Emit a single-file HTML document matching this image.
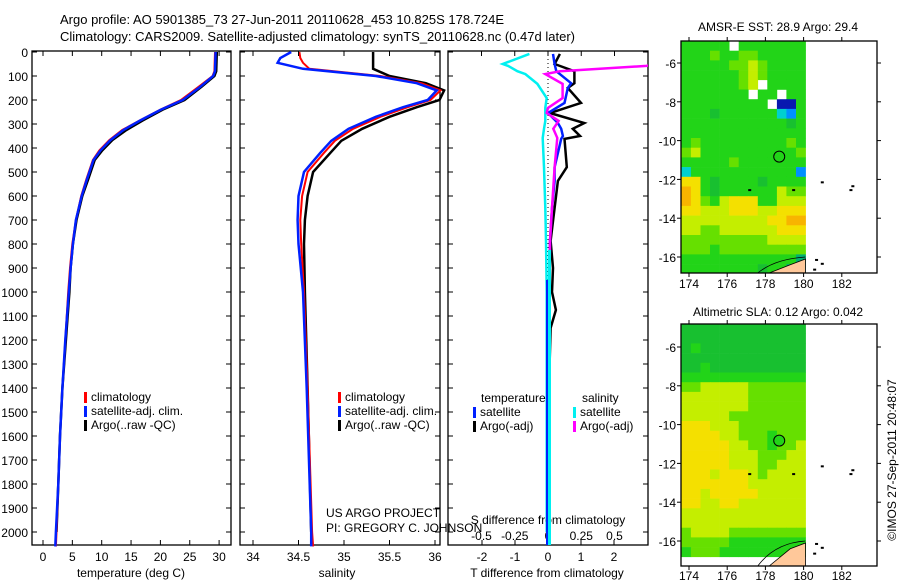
<!DOCTYPE html>
<html><head><meta charset="utf-8"><style>
html,body{margin:0;padding:0;background:#fff}
svg{display:block;font-family:"Liberation Sans",sans-serif}
</style></head><body>
<svg id="fig" width="900" height="580" viewBox="0 0 900 580" xmlns="http://www.w3.org/2000/svg">
<text x="60" y="24" font-size="13">Argo profile: AO 5901385_73 27-Jun-2011 20110628_453 10.825S 178.724E</text>
<text x="60" y="41" font-size="13">Climatology: CARS2009. Satellite-adjusted climatology: synTS_20110628.nc (0.47d later)</text>
<text x="778" y="31" font-size="12" text-anchor="middle">AMSR-E SST: 28.9 Argo: 29.4</text>
<text x="778" y="316" font-size="12" text-anchor="middle">Altimetric SLA: 0.12 Argo: 0.042</text>
<text x="0" y="0" font-size="12" text-anchor="middle" transform="translate(896,460) rotate(-90)">©IMOS 27-Sep-2011 20:48:07</text>
<g id="g"></g>
</svg>
<script>
// ---- depth data ----
const tDepth=[0,80,100,145,200,240,285,325,367,410,450,530,600,700,800,900,1000,1200,1400,1600,1800,2000,2060];
const tClim=[29.3,29.2,28.9,26.5,23.5,20,16.5,13.5,11.3,9.6,8.5,7.4,6.5,5.6,5,4.6,4.3,3.8,3.3,2.9,2.6,2.3,2.2];
const tSat=[29.4,29.3,29.0,26.8,23.8,20.1,16.6,13.7,11.5,9.8,8.6,7.5,6.6,5.6,5.1,4.7,4.4,3.8,3.3,2.9,2.6,2.2,2.1];
const tArgo=[29.6,29.5,29.2,27.0,24.1,20.4,17.0,14.2,11.8,10.1,8.8,7.7,6.7,5.7,5.1,4.7,4.5,3.9,3.3,2.9,2.6,2.3];
const sDepth=[0,25,45,70,100,130,160,200,230,270,320,370,420,500,600,700,800,1000,1400,2000,2060];
const sClim=[34.51,34.52,34.55,34.62,35.4,35.85,36.06,35.95,35.7,35.4,35.1,34.9,34.78,34.6,34.54,34.52,34.53,34.56,34.6,34.65,34.66];
const sSat=[34.42,34.3,34.27,34.55,35.35,35.8,36.02,35.92,35.65,35.35,35.05,34.86,34.74,34.56,34.5,34.49,34.5,34.55,34.59,34.64,34.64];
const sArgo=[35.32,35.32,35.32,35.32,35.5,35.9,36.1,36.05,35.8,35.5,35.2,34.97,34.85,34.66,34.6,34.57,34.56,34.57,34.6,34.64];
const dDepth=[8,50,80,130,150,212,254,296,320,350,362,480,537,650,787,900,1000,1075,1150,1300,1600,2000];
const dTArgo=[0.36,0.2,0.8,0.8,0.6,1.0,0.06,1.1,0.75,0.97,0.5,0.57,0.3,0.2,0.08,0.15,0.12,0.24,0.08,0.05,0.02,0.0];
const dTSat=[0.15,0.2,0.25,0.7,0.6,0.5,0.0,0.3,0.4,0.45,0.4,0.2,0.2,0.12,0.06,0.05,0.05,0.05,0.04,0.02,0.01,0.0];
const dSDepth=[8,50,58,80,92,133,192,233,254,287,320,358,480,650,787,1000,1300,2000];
const dSArgo=[0.82,0.82,0.74,0.09,-0.02,0.11,0.11,0.0,-0.01,0.08,0.04,0.07,0.05,0.03,0.015,0.01,0.005,0.0];
const dSSat=[-0.14,-0.34,-0.3,-0.23,-0.17,-0.08,-0.01,-0.02,-0.02,-0.02,-0.03,-0.04,-0.03,-0.02,-0.015,-0.01,-0.01,-0.01];
const depthTicks=[0,100,200,300,400,500,600,700,800,900,1000,1100,1200,1300,1400,1500,1600,1700,1800,1900,2000];
const tTicks=[0,5,10,15,20,25,30];
const sTicks=[34,34.5,35,35.5,36];
const dTTicks=[-2,-1,0,1,2];
const dSTicks=[-0.5,-0.25,0,0.25,0.5];
// ---- map data (rows N->S, 0.5 deg cells from 173.6E, -4.87) ----
const sstGrid=["55555.5555555","5556556655555","5555566765555","5555556765555","55555567.5555","5555555.55.55","555555555.005","5554555555215","5555555555545","5555555555555","5655555555565","6755555555556","5555565555555","2555555555551","8854555545555","9854555555766","9865788855777","8877788877888","7777777778899","7766777777888","6666666667777","6665666666666","5555555555553","5555555545532"];
const slaGrid=["4444444444444","4444444444444","4544444444444","4444444444444","4454444444444","5555555555555","6677777666666","7777777666666","7777777666666","7777766666666","8887776666666","8888776665666","8888877665667","8888877766677","8888877766777","8887888767777","8888888777777","8878888877777","8877887777777","7777777777777","7777777777777","6777766666666","6666655555555","5666555555555"];
const lonTicks=[174,176,178,180,182];
const latTicks=[-6,-8,-10,-12,-14,-16];
const argoPos=[178.724,-10.825];
const palette=["#0818b0","#0090ff","#00d0d0","#00b070","#18c030","#22d418","#66e000","#c4ee00","#f4e000","#f8b400"];

const NS="http://www.w3.org/2000/svg";
const G=document.getElementById('g');
function el(t,a,p){const e=document.createElementNS(NS,t);for(const k in a)e.setAttribute(k,a[k]);(p||G).appendChild(e);return e;}
const dy=d=>52+d*0.24;
function panel(x0,x1,name){
  const g=el('g',{});
  
  
  const r=el('rect',{x:x0,y:51,width:x1-x0,height:494,fill:'none',stroke:'#000','stroke-width':1.3},g);
  
  
  depthTicks.forEach(d=>{el('line',{x1:x0,x2:x0+5,y1:dy(d),y2:dy(d),stroke:'#000'},g);el('line',{x1:x1,x2:x1-5,y1:dy(d),y2:dy(d),stroke:'#000'},g);});
  return g;
}
function line(g,xs,ds,fx,color,w,name,clip){
  const pts=xs.map((v,i)=>fx(v).toFixed(1)+','+dy(ds[i]).toFixed(1)).join(' ');
  const p=el('polyline',{points:pts,fill:'none',stroke:color,'stroke-width':w,'stroke-linejoin':'miter'},g);
  if(clip)p.setAttribute('clip-path',clip);
  
  
}
function txt(s,x,y,anchor,name,size){const t=el('text',{x:x,y:y,'font-size':size||12,'text-anchor':anchor||'start'});t.textContent=s;return t;}
function legend(x,y,labels,colors,pre){labels.forEach((l,i)=>{el('rect',{x:x,y:y+i*14-9,width:3,height:11,fill:colors[i]});txt(l,x+7,y+i*14,'start',pre+'-legend-entry');});}

// Panel 1 temperature
const tx=v=>43+v*5.87;
const p1=panel(32,231,'temperature-panel');
depthTicks.forEach(d=>txt(String(d),28,dy(d)+5,'end','depth-tick-label'));
tTicks.forEach(v=>{el('line',{x1:tx(v),x2:tx(v),y1:545,y2:540,stroke:'#000'});el('line',{x1:tx(v),x2:tx(v),y1:51,y2:56,stroke:'#000'});txt(String(v),tx(v),561,'middle','temperature-tick-label');});
txt('temperature (deg C)',131,577,'middle','temperature-axis-title');
line(p1,tArgo,tDepth,tx,'#000',2.5,'temperature-argo-line');
line(p1,tClim,tDepth,tx,'#f00',2,'temperature-climatology-line');
line(p1,tSat,tDepth,tx,'#0020ff',2.5,'temperature-satellite-line');
legend(84,401,['climatology','satellite-adj. clim.','Argo(..raw -QC)'],['#f00','#0020ff','#000'],'temperature');

// Panel 2 salinity
const sx=v=>344+(v-35)*91;
const p2=panel(240,440,'salinity-panel');
sTicks.forEach(v=>{el('line',{x1:sx(v),x2:sx(v),y1:545,y2:540,stroke:'#000'});el('line',{x1:sx(v),x2:sx(v),y1:51,y2:56,stroke:'#000'});txt(String(v),sx(v),561,'middle','salinity-tick-label');});
txt('salinity',337,577,'middle','salinity-axis-title');
line(p2,sArgo,sDepth,sx,'#000',2.5,'salinity-argo-line');
line(p2,sClim,sDepth,sx,'#f00',2,'salinity-climatology-line');
line(p2,sSat,sDepth,sx,'#0020ff',2.5,'salinity-satellite-line');
legend(338,401,['climatology','satellite-adj. clim.','Argo(..raw -QC)'],['#f00','#0020ff','#000'],'salinity');
txt('US ARGO PROJECT',326,517,'start','project-credit');
txt('PI: GREGORY C. JOHNSON',326,532,'start','pi-credit');

// Panel 3 differences
const cp=el('clipPath',{id:'c3'});el('rect',{x:448,y:51,width:200,height:494},cp);
const tdx=v=>548+v*33, sdx=v=>548+v*133;
const p3=panel(448,648,'difference-panel');
el('line',{x1:548,x2:548,y1:51,y2:545,stroke:'#000','stroke-dasharray':'1,3'},p3);
dTTicks.forEach(v=>{el('line',{x1:tdx(v),x2:tdx(v),y1:545,y2:540,stroke:'#000'});txt(String(v),tdx(v),561,'middle','t-diff-tick-label');});
dSTicks.forEach(v=>{el('line',{x1:sdx(v),x2:sdx(v),y1:51,y2:56,stroke:'#000'});txt(String(v),sdx(v),540,'middle','s-diff-tick-label');});
txt('S difference from climatology',548,524,'middle','s-diff-axis-title');
txt('T difference from climatology',547,577,'middle','t-diff-axis-title');
line(p3,dSSat,dSDepth,sdx,'#00f0f0',2.5,'salinity-satellite-diff-line','url(#c3)');
line(p3,dTArgo,dDepth,tdx,'#000',2.5,'temperature-argo-diff-line','url(#c3)');
line(p3,dTSat,dDepth,tdx,'#0020ff',2.5,'temperature-satellite-diff-line','url(#c3)');
line(p3,dSArgo,dSDepth,sdx,'#ff00ff',2.5,'salinity-argo-diff-line','url(#c3)');
el('rect',{x:546,y:280,width:2,height:265,fill:'#0020ff'});
el('rect',{x:548,y:250,width:3,height:295,fill:'#00f0f0'});
txt('temperature',481,402,'start','diff-legend-temperature-header');
txt('salinity',582,402,'start','diff-legend-salinity-header');
legend(473,416,['satellite','Argo(-adj)'],['#0020ff','#000'],'diff-temperature');
legend(573,416,['satellite','Argo(-adj)'],['#00f0f0','#ff00ff'],'diff-salinity');

// Maps
function map(top,bottom,lat6y,grid,name,labOff){
  const g=el('g',{});
  
  
  const lx=lon=>689+(lon-174)*19.1;
  const ly=lat=>lat6y+(-6-lat)*19.4;
  const lat0=-6+(lat6y-top)/19.4;
  const w=0.5*19.1,h=0.5*19.4;
  grid.forEach((row,r)=>{for(let c=0;c<row.length;c++){const ch=row[c];if(ch==='.')continue;
    const yy=ly(lat0-0.5*r);const hh=Math.min(h,bottom-yy);if(hh<=0)continue;
    const cell=el('rect',{x:(lx(173.6+0.5*c)).toFixed(1),y:yy.toFixed(1),width:(w+0.3).toFixed(1),height:(hh+0.3).toFixed(1),fill:palette[+ch]},g);
    
    }});
  const land=el('path',{d:`M${lx(178.2)},${bottom} L${lx(179.3)},${ly(-16.4)} L${lx(180.1)},${ly(-16.1)} L${lx(180.1)},${bottom} Z`,fill:'#ffc89a',stroke:'#000','stroke-width':0.8},g);
  
  
  el('path',{d:`M${lx(177.6)},${bottom} Q${lx(178.5)},${ly(-16.1)} ${lx(180.1)},${ly(-16.0)}`,fill:'none',stroke:'#000','stroke-width':0.8},g);
  [[180.9,-12.1],[182.5,-12.3],[182.4,-12.5],[180.6,-16.1],[180.9,-16.3],[180.5,-16.6],[179.4,-12.5],[177.1,-12.5]].forEach(p=>el('rect',{x:lx(p[0]),y:ly(p[1]),width:3,height:2,fill:'#000'},g));
  const fr=el('rect',{x:681,y:top,width:196,height:bottom-top,fill:'none',stroke:'#000','stroke-width':1.3},g);
  
  
  lonTicks.forEach(v=>{el('line',{x1:lx(v),x2:lx(v),y1:bottom,y2:bottom+4,stroke:'#000'},g);el('line',{x1:lx(v),x2:lx(v),y1:top,y2:top-4,stroke:'#000'},g);txt(String(v),lx(v),bottom+labOff,'middle',name+'-lon-tick-label');});
  latTicks.forEach(v=>{el('line',{x1:677,x2:681,y1:ly(v),y2:ly(v),stroke:'#000'},g);el('line',{x1:877,x2:881,y1:ly(v),y2:ly(v),stroke:'#000'},g);txt(String(v),676,ly(v)+5,'end',name+'-lat-tick-label');});
  const m=el('circle',{cx:lx(argoPos[0]),cy:ly(argoPos[1]),r:5.5,fill:'#22d418',stroke:'#000','stroke-width':1},g);
  
  
}
map(41,273,63,sstGrid,'sst-map',15);
map(324,566,347,slaGrid,'sla-map',14);
</script>
</body></html>
